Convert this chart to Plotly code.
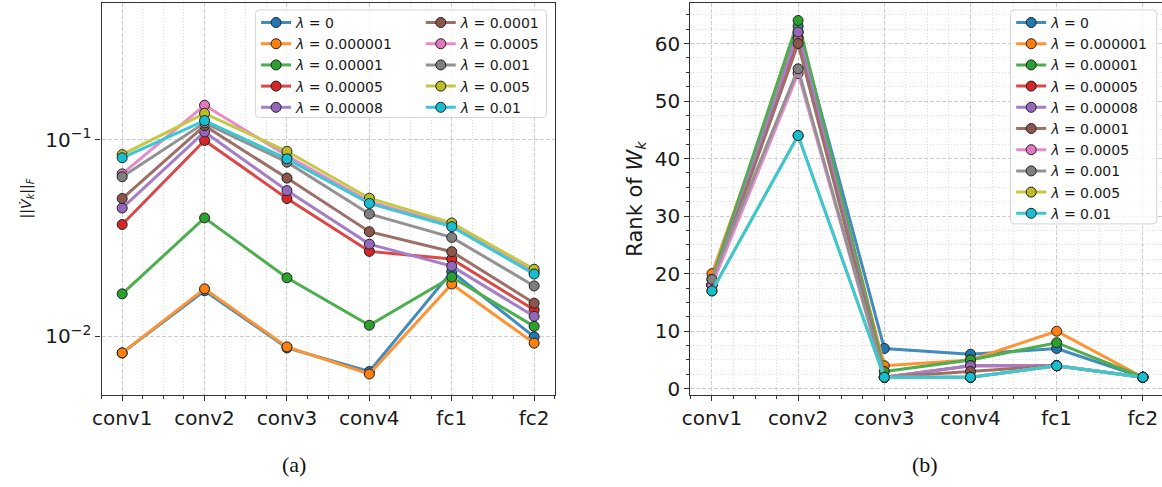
import math
import plotly.graph_objects as go

# ---------------- data ----------------
layers = ["conv1", "conv2", "conv3", "conv4", "fc1", "fc2"]
lambda_labels = ["0", "0.000001", "0.00001", "0.00005", "0.00008",
                 "0.0001", "0.0005", "0.001", "0.005", "0.01"]
colors = ["#1f77b4", "#ff7f0e", "#2ca02c", "#d62728", "#9467bd",
          "#8c564b", "#e377c2", "#7f7f7f", "#bcbd22", "#17becf"]

# (a) ||V_k||_F per layer, one list per lambda
norm_lam_0 = [0.0082, 0.0170, 0.0087, 0.0066, 0.0213, 0.0099]
norm_lam_1e6 = [0.0082, 0.0174, 0.0088, 0.0064, 0.0184, 0.0092]
norm_lam_1e5 = [0.0164, 0.0400, 0.0198, 0.01135, 0.0200, 0.0112]
norm_lam_5e5 = [0.0370, 0.0993, 0.0502, 0.0270, 0.0247, 0.0136]
norm_lam_8e5 = [0.0449, 0.1097, 0.0551, 0.0294, 0.0227, 0.0126]
norm_lam_1e4 = [0.0502, 0.1180, 0.0638, 0.0340, 0.0269, 0.0147]
norm_lam_5e4 = [0.0670, 0.1500, 0.0830, 0.0484, 0.0368, 0.0212]
norm_lam_1e3 = [0.0648, 0.1220, 0.0769, 0.0419, 0.0318, 0.0180]
norm_lam_5e3 = [0.0840, 0.1364, 0.0874, 0.0504, 0.0377, 0.0219]
norm_lam_1e2 = [0.0810, 0.1253, 0.0800, 0.0474, 0.0361, 0.0207]

# (b) rank of W_k per layer, one list per lambda
rank_lam_0 = [18, 63, 7, 6, 7, 2]
rank_lam_1e6 = [20, 62, 4, 5, 10, 2]
rank_lam_1e5 = [19, 64, 3, 5, 8, 2]
rank_lam_5e5 = [18, 61, 2, 4, 4, 2]
rank_lam_8e5 = [18, 62, 2, 4, 4, 2]
rank_lam_1e4 = [18, 60, 2, 3, 4, 2]
rank_lam_5e4 = [18, 54.8, 2, 2, 4, 2]
rank_lam_1e3 = [19, 55.6, 2, 2, 4, 2]
rank_lam_5e3 = [17, 44, 2, 2, 4, 2]
rank_lam_1e2 = [17, 44, 2, 2, 4, 2]

norm_series = [norm_lam_0, norm_lam_1e6, norm_lam_1e5, norm_lam_5e5, norm_lam_8e5,
               norm_lam_1e4, norm_lam_5e4, norm_lam_1e3, norm_lam_5e3, norm_lam_1e2]
rank_series = [rank_lam_0, rank_lam_1e6, rank_lam_1e5, rank_lam_5e5, rank_lam_8e5,
               rank_lam_1e4, rank_lam_5e4, rank_lam_1e3, rank_lam_5e3, rank_lam_1e2]

# ---------------- layout helpers ----------------
W, H = 1162, 487
FONT = "DejaVu Sans"
xpos = list(range(len(layers)))


def px(x):
    return x / W


def py(y):
    return 1 - y / H


def soft(hexc, a=0.85):
    # colour as it looks with alpha a over white, but opaque
    h = hexc.lstrip("#")
    r, g, b = (int(h[k:k + 2], 16) for k in (0, 2, 4))
    f = lambda c: round(c * a + 255 * (1 - a))
    return "rgb(%d,%d,%d)" % (f(r), f(g), f(b))


def rounded_box(x0p, y0p, x1p, y1p, r=4):
    # pixel coords (top-left origin) -> paper path with rounded corners
    rx, ry = r / W, r / H
    X0, X1 = px(x0p), px(x1p)
    Yt, Yb = py(y0p), py(y1p)
    return (f"M {X0+rx},{Yt} L {X1-rx},{Yt} Q {X1},{Yt} {X1},{Yt-ry} "
            f"L {X1},{Yb+ry} Q {X1},{Yb} {X1-rx},{Yb} "
            f"L {X0+rx},{Yb} Q {X0},{Yb} {X0},{Yb+ry} "
            f"L {X0},{Yt-ry} Q {X0},{Yt} {X0+rx},{Yt} Z")


fig = go.Figure()

for i, (lab, col) in enumerate(zip(lambda_labels, colors)):
    name = f"<i>λ</i> = {lab}"
    fig.add_trace(go.Scatter(
        x=xpos, y=norm_series[i], mode="lines+markers", name=name,
        line=dict(color=soft(col), width=3),
        marker=dict(size=10, color=col, line=dict(color="#222222", width=1)),
        xaxis="x", yaxis="y",
        legend="legend" if i < 5 else "legend2",
    ))

for i, (lab, col) in enumerate(zip(lambda_labels, colors)):
    name = f"<i>λ</i> = {lab}"
    fig.add_trace(go.Scatter(
        x=xpos, y=rank_series[i], mode="lines+markers", name=name,
        line=dict(color=soft(col), width=3),
        marker=dict(size=10, color=col, line=dict(color="#222222", width=1)),
        xaxis="x2", yaxis="y2", legend="legend3",
    ))

axis_common = dict(
    showline=True, linecolor="#333333", linewidth=1.3,
    ticks="outside", ticklen=5, tickwidth=1.2, tickcolor="#333333",
    tickfont=dict(family=FONT, size=20, color="#1a1a1a"),
    showgrid=True, gridcolor="#cccccc", gridwidth=1, griddash="4px,2px",
    zeroline=False,
)
minor_x = dict(dtick=0.25, tick0=0, ticks="outside", ticklen=3, tickcolor="#333333",
               showgrid=True, gridcolor="#dddddd", griddash="1px,2px", gridwidth=1)

ydom = [py(400), py(2.7)]

fig.update_layout(
    width=W, height=H,
    margin=dict(l=0, r=0, t=0, b=0),
    paper_bgcolor="white", plot_bgcolor="white",
    font=dict(family=FONT, color="#1a1a1a"),
    xaxis=dict(domain=[px(93.3), px(550)], range=[-0.25, 5.25],
               tickvals=xpos, ticktext=layers, mirror=True,
               minor=minor_x, anchor="y", **axis_common),
    yaxis=dict(domain=ydom, type="log",
               range=[math.log10(0.005), math.log10(0.5)],
               tickvals=[0.01, 0.1], ticktext=["10<sup>−2</sup>", "10<sup>−1</sup>"],
               mirror=True, anchor="x", **axis_common),
    xaxis2=dict(domain=[px(686.7), 1.0], range=[-0.25, 5.222],
                tickvals=xpos, ticktext=layers, mirror=True,
                minor=minor_x, anchor="y2", **axis_common),
    yaxis2=dict(domain=ydom, range=[-1.1, 67.1], tick0=0, dtick=10,
                mirror=False, anchor="x2",
                minor=dict(dtick=2.5, tick0=0, ticks="outside", ticklen=3, tickcolor="#333333",
                           showgrid=True, gridcolor="#dddddd", griddash="1px,2px", gridwidth=1),
                **axis_common),
    legend=dict(x=px(249), y=py(7), xanchor="left", yanchor="top",
                bgcolor="rgba(0,0,0,0)", borderwidth=0,
                font=dict(family=FONT, size=14, color="#1a1a1a"), tracegroupgap=0),
    legend2=dict(x=px(415), y=py(7), xanchor="left", yanchor="top",
                 bgcolor="rgba(0,0,0,0)", borderwidth=0,
                 font=dict(family=FONT, size=14, color="#1a1a1a"), tracegroupgap=0),
    legend3=dict(x=px(1010), y=py(7), xanchor="left", yanchor="top",
                 bgcolor="rgba(0,0,0,0)", borderwidth=0,
                 font=dict(family=FONT, size=14, color="#1a1a1a"), tracegroupgap=0),
    shapes=[
        dict(type="path", xref="paper", yref="paper", layer="above",
             path=rounded_box(248.3, 10, 541.7, 119),
             fillcolor="rgba(255,255,255,0.8)", line=dict(color="#d5d5d5", width=1)),
        dict(type="path", xref="paper", yref="paper", layer="above",
             path=rounded_box(1009.3, 10, 1156.7, 226.7),
             fillcolor="rgba(255,255,255,0.8)", line=dict(color="#d5d5d5", width=1)),
    ],
    annotations=[
        dict(text="||<i>V̇</i><sub><i>k</i></sub>||<sub><i>F</i></sub>",
             x=px(18), y=py(201), xref="paper", yref="paper", textangle=-90,
             showarrow=False, xanchor="center", yanchor="middle",
             font=dict(family=FONT, size=14, color="#1a1a1a")),
        dict(text="Rank of <i>W</i><sub><i>k</i></sub>",
             x=px(631), y=py(201), xref="paper", yref="paper", textangle=-90,
             showarrow=False, xanchor="center", yanchor="middle",
             font=dict(family=FONT, size=21, color="#1a1a1a")),
        dict(text="(a)", x=px(287), y=py(470), xref="paper", yref="paper",
             showarrow=False, xanchor="center", yanchor="middle",
             font=dict(family="Liberation Serif", size=22, color="#111111")),
        dict(text="(b)", x=px(923), y=py(470), xref="paper", yref="paper",
             showarrow=False, xanchor="center", yanchor="middle",
             font=dict(family="Liberation Serif", size=22, color="#111111")),
    ],
)

fig.write_html("out.html")
